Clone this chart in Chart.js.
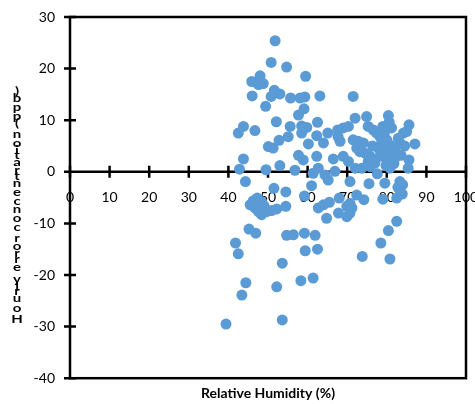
<!DOCTYPE html>
<html>
<head>
<meta charset="utf-8">
<script src="https://cdn.jsdelivr.net/npm/chart.js@4.4.1/dist/chart.umd.min.js"></script>
<style>
  html, body { margin: 0; padding: 0; background: #ffffff; }
  #wrap { width: 475px; height: 404px; }
</style>
</head>
<body>
<div id="wrap"><canvas id="chart" width="475" height="404"></canvas></div>
<script>
// Axis ranges and tick steps
const xTickValues = [0, 10, 20, 30, 40, 50, 60, 70, 80, 90, 100];
const yTickValues = [-40, -30, -20, -10, 0, 10, 20, 30];

const xTitle = 'Relative Humidity (%)';
const yTitle = 'Hourly error concentration (ppb)';

// Relative humidity (%) for each hourly observation
const rh = [
  51.8, 50.8, 54.7, 59.5, 45.9, 48.0, 48.8, 47.6, 46.0, 51.6,
  50.8, 53.0, 55.7, 58.1, 59.3, 63.1, 71.5, 49.4, 59.1, 57.7,
  52.1, 55.6, 58.5, 59.8, 62.5, 58.5, 62.3, 55.1, 52.8, 60.2,
  50.1, 51.3, 64.0, 65.1, 67.6, 69.0, 70.3, 72.0, 74.9, 75.3,
  67.7, 68.2, 71.5, 72.8, 74.1, 72.4, 73.2, 74.5, 75.8, 76.6,
  77.4, 79.0, 80.4, 81.2, 79.5, 78.3, 80.0, 78.7, 80.8, 79.5,
  81.2, 78.3, 80.0, 77.0, 75.3, 75.8, 80.8, 82.9, 84.2, 85.6,
  85.0, 87.1, 83.3, 82.1, 82.1, 85.6, 85.4, 42.5, 43.8, 46.7,
  43.8, 42.8, 49.5, 53.0, 56.8, 57.7, 58.9, 62.3, 62.7, 61.4,
  66.5, 69.0, 70.3, 72.0, 73.7, 64.4, 66.9, 65.2, 44.3, 54.5,
  51.5, 61.0, 70.7, 75.5, 83.3,
  46.3, 45.5, 46.7, 47.6, 48.4, 49.7, 50.9, 52.2, 54.5, 47.3,
  48.4, 59.2, 62.7, 64.0, 65.5, 64.8, 68.0, 67.8, 69.9, 70.7,
  69.9, 70.7, 72.4, 74.2, 79.0, 82.5, 83.3, 45.2, 46.9, 41.8,
  42.5, 54.7, 56.4, 59.2, 61.9, 59.4, 62.5, 53.6, 73.8, 78.5,
  80.4, 82.5, 80.8, 44.4, 43.4, 52.2, 58.3, 61.4, 53.6, 39.4,
  79.5, 84.0,
  78.0, 79.8, 81.8, 76.4, 80.6, 83.6, 77.6, 84.5, 82.8, 83.9,
  47.0, 49.0, 71.2
];

// Hourly error (ppb) paired with rh above
const hourlyError = [
  25.4, 21.2, 20.3, 18.5, 17.5, 18.6, 17.1, 16.9, 14.7, 15.8,
  14.6, 15.1, 14.3, 14.3, 14.5, 14.7, 14.6, 12.7, 12.2, 11.0,
  9.7, 8.8, 8.9, 8.6, 9.6, 7.5, 7.0, 6.8, 6.1, 5.4,
  4.9, 4.6, 5.6, 7.5, 8.1, 8.5, 8.8, 10.4, 10.7, 8.8,
  6.8, 5.9, 6.2, 5.9, 5.6, 4.6, 3.9, 3.6, 3.0, 8.1,
  7.5, 8.8, 10.9, 8.5, 7.8, 6.8, 6.2, 5.6, 5.2, 4.3,
  3.6, 3.0, 2.3, 1.7, 2.0, 1.0, 0.7, 6.5, 7.5, 9.1,
  7.8, 5.4, 5.6, 4.6, 2.7, 2.3, 0.7, 7.5, 8.8, 8.0,
  2.5, 0.5, 0.4, 1.2, 0.3, 3.2, 2.3, 3.0, 0.7, -0.3,
  2.5, 3.0, 2.0, 0.7, 0.7, -0.6, 0.1, -1.6, -1.9, -3.9,
  -3.2, -2.7, -1.9, -2.3, -1.9,
  -5.6, -6.4, -7.0, -7.7, -8.3, -7.7, -7.5, -7.2, -6.7, -5.1,
  -5.8, -4.7, -7.0, -6.4, -5.9, -9.0, -5.1, -8.0, -6.7, -6.1,
  -8.7, -8.0, -4.5, -5.4, -5.3, -5.1, -3.5, -11.1, -11.9, -13.8,
  -15.9, -12.3, -12.2, -11.9, -12.3, -15.3, -15.0, -17.7, -16.4, -13.8,
  -11.4, -9.6, -16.9, -21.5, -23.9, -22.3, -21.1, -20.6, -28.7, -29.5,
  -2.2, -2.5,
  4.5, 1.2, 1.6, 5.0, 9.6, 3.2, -0.4, 5.0, -3.0, -4.3,
  -6.2, -6.6, -7.0
];

const points = rh.map((x, i) => ({ x: x, y: hourlyError[i] }));

const AXIS_COLOR = '#000000';
const AXIS_WIDTH = 2.5;
const TICK_HALF = 6;

// Plot-area frame plus tick marks that cross both axes
const framePlugin = {
  id: 'frameAndTicks',
  beforeDatasetsDraw(chart) {
    const { ctx, chartArea: a, scales } = chart;
    const xs = scales.x, ys = scales.y;
    const yZero = ys.getPixelForValue(0);
    ctx.save();
    ctx.strokeStyle = AXIS_COLOR;
    ctx.lineWidth = AXIS_WIDTH;
    ctx.lineCap = 'butt';
    ctx.strokeRect(a.left, a.top, a.right - a.left, a.bottom - a.top);
    ctx.beginPath();
    ctx.moveTo(a.left, yZero);
    ctx.lineTo(a.right, yZero);
    yTickValues.forEach(v => {
      const py = ys.getPixelForValue(v);
      ctx.moveTo(a.left - TICK_HALF, py);
      ctx.lineTo(a.left + TICK_HALF, py);
    });
    xTickValues.forEach(v => {
      const px = xs.getPixelForValue(v);
      ctx.moveTo(px, yZero - TICK_HALF);
      ctx.lineTo(px, yZero + TICK_HALF);
    });
    ctx.stroke();
    ctx.restore();
  }
};

// Vertical axis title written as a tight column of upright characters
const stackedTitlePlugin = {
  id: 'stackedTitle',
  afterDraw(chart) {
    const { ctx } = chart;
    const colX = 17;
    const colCenter = 207;
    const colSpan = 236;
    ctx.save();
    ctx.font = 'bold 15px Lato, "Open Sans", sans-serif';
    ctx.fillStyle = '#000000';
    ctx.textAlign = 'center';
    ctx.textBaseline = 'middle';
    const chars = Array.from(yTitle);
    const widths = chars.map(c => ctx.measureText(c).width);
    const total = widths.reduce((s, w) => s + w, 0);
    const k = colSpan / total;
    let cursor = colCenter + colSpan / 2;
    chars.forEach((c, i) => {
      const adv = widths[i] * k;
      const cy = cursor - adv / 2;
      if (c !== ' ') {
        ctx.save();
        ctx.translate(colX, cy);
        ctx.scale(1, 0.8);
        ctx.fillText(c, 0, 0);
        ctx.restore();
      }
      cursor -= adv;
    });
    ctx.restore();
  }
};

const tickFont = { family: 'Lato, "Open Sans", sans-serif', size: 14 };

new Chart(document.getElementById('chart'), {
  type: 'scatter',
  data: {
    datasets: [{
      data: points,
      backgroundColor: '#5B9BD5',
      borderColor: '#5B9BD5',
      borderWidth: 0,
      pointRadius: 5.5,
      pointHoverRadius: 5.5
    }]
  },
  options: {
    responsive: false,
    animation: false,
    devicePixelRatio: 1,
    events: [],
    layout: { padding: { top: 17, right: 9, left: 0, bottom: 0 } },
    plugins: {
      legend: { display: false },
      tooltip: { enabled: false },
      title: {
        display: true,
        text: xTitle,
        position: 'bottom',
        fullSize: false,
        color: '#000000',
        font: { family: 'Lato, "Open Sans", sans-serif', size: 14, weight: 'bold' },
        padding: { top: 7, bottom: 2 }
      }
    },
    scales: {
      x: {
        type: 'linear',
        position: { y: 0 },
        min: xTickValues[0],
        max: xTickValues[xTickValues.length - 1],
        afterBuildTicks(scale) { scale.ticks = xTickValues.map(v => ({ value: v })); },
        afterFit(scale) { scale.paddingLeft = 0; scale.paddingRight = 0; },
        grid: { display: false, drawTicks: false },
        border: { display: false },
        ticks: { color: '#000000', font: tickFont, padding: 17, maxRotation: 0, autoSkip: false }
      },
      y: {
        type: 'linear',
        position: 'left',
        min: yTickValues[0],
        max: yTickValues[yTickValues.length - 1],
        afterBuildTicks(scale) { scale.ticks = yTickValues.map(v => ({ value: v })); },
        afterFit(scale) { scale.width = 70; scale.paddingTop = 0; scale.paddingBottom = 0; },
        grid: { display: false, drawTicks: false },
        border: { display: false },
        ticks: { color: '#000000', font: tickFont, padding: 15, autoSkip: false }
      }
    }
  },
  plugins: [framePlugin, stackedTitlePlugin]
});
</script>
</body>
</html>
